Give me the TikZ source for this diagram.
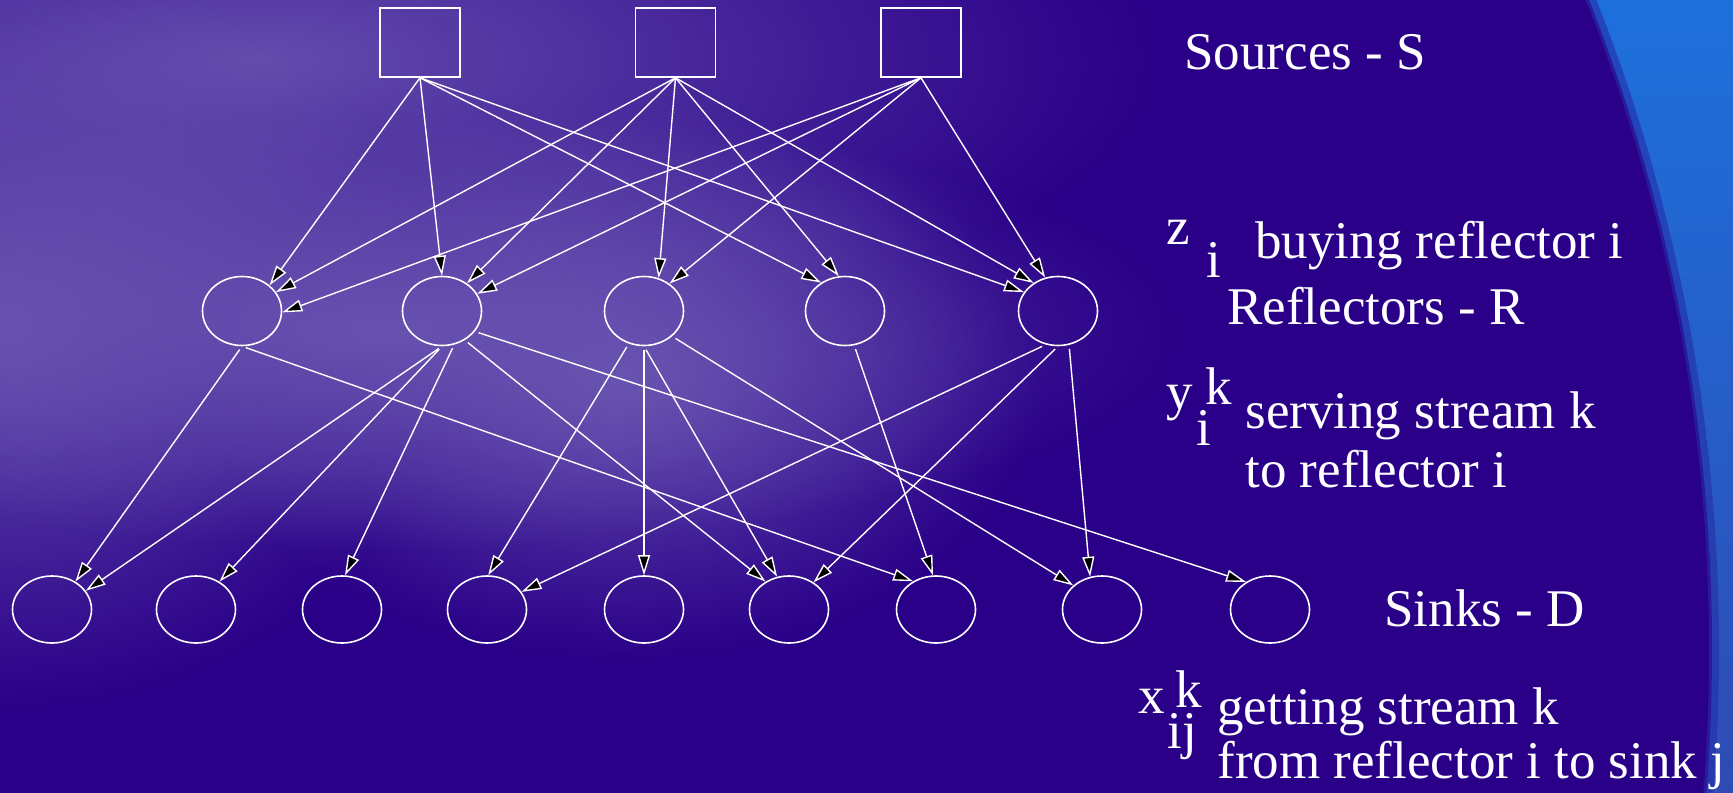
\documentclass[tikz,border=0pt]{standalone}
\usepackage{fontspec}
\setmainfont{Liberation Serif}
\newfontfamily\legendface{Liberation Serif}
\usetikzlibrary{arrows.meta,shapes.geometric,fadings}
\definecolor{bgDark}{HTML}{2A0088}
\definecolor{bgLight}{HTML}{6E5AB4}
\definecolor{rimBlue}{HTML}{1E70DC}
\definecolor{rimBlueLow}{HTML}{2E4CB4}
\newcommand\legendfont{\legendface\fontsize{26.5}{30}\selectfont}
\tikzfading[name=glow, inner color=transparent!15, outer color=transparent!100]

\begin{document}
\begin{tikzpicture}[x=0.5pt, y=-0.5pt, >={Triangle[length=10pt,width=6pt,fill=black]},
    source/.style={draw=white, line width=0.8pt, minimum width=40pt, minimum height=34.5pt, inner sep=0pt},
    refl/.style={ellipse, draw=white, line width=0.8pt, minimum width=39.5pt, minimum height=34.5pt, inner sep=0pt},
    sink/.style={refl, minimum height=33.5pt},
    flow/.style={->, white, line width=0.7pt},
    legend/.style={white, inner sep=0pt, anchor=base west, font=\legendfont}]
    \useasboundingbox (0,0) rectangle (1733,792);

    % ---------- background ----------
    \begin{scope}
        \clip (0,0) rectangle (1733,792);
        \shade[top color=rimBlue, bottom color=rimBlueLow] (0,0) rectangle (1733,792);
        \fill[bgDark] (-60,650) circle (1772);
        \draw[line width=5pt, color=bgDark!60!rimBlue, opacity=0.6] (-60,650) circle (1774);
        \fill[bgLight, path fading=glow] (260,60) ellipse (900 and 300);
        \fill[bgLight, path fading=glow] (0,330) ellipse (450 and 380);
        \fill[bgLight, path fading=glow] (380,330) ellipse (800 and 220);
        \fill[bgLight, path fading=glow] (620,380) ellipse (420 and 280);
    \end{scope}

    % ---------- sources, reflectors, sinks ----------
    \foreach \n/\x in {1/420, 2/675.5, 3/921}
        \node[source] (s\n) at (\x,42.5) {};
    \foreach \n/\x in {1/242, 2/442, 3/644, 4/845, 5/1058}
        \node[refl] (r\n) at (\x,311) {};
    \foreach \n/\x in {1/52, 2/196, 3/342, 4/487, 5/644, 6/789, 7/936, 8/1102, 9/1270}
        \node[sink] (d\n) at (\x,609.5) {};

    % ---------- edges ----------
    \foreach \a/\b/\hb in {1/1/43, 1/2/90, 1/4/130, 1/5/151, 2/1/29, 2/2/48, 2/3/66,
                           2/4/100, 2/5/131, 3/1/-2, 3/2/26, 3/3/47, 3/5/111}
        \draw[flow] (s\a.south) -- (r\b.\hb);
    \foreach \a/\ta/\b/\hb in {1/-90/1/50, 1/-90/7/129, 2/-90/1/29, 2/-90/2/50, 2/-70/3/85,
                               2/-52/6/130, 2/-32/9/131, 3/-115/4/88, 3/-90/5/90, 3/-90/6/110,
                               3/-42/8/140, 4/-75/7/95, 5/-110/4/27, 5/-90/6/48, 5/-72/8/110}
        \draw[flow, shorten <=2pt] (r\a.\ta) -- (d\b.\hb);

    % ---------- legend ----------
    \node[legend] (srcLbl) at (1184,69) {Sources - S};
    \node[legend] (zVar) at (1166,244) {z};
    \node[legend] (zIdx) at (1206,277) {i};
    \node[legend] (zTxt) at (1255,258) {buying reflector i};
    \node[legend] (refLbl) at (1227,324) {Reflectors - R};
    \node[legend] (yVar) at (1166,409) {y};
    \node[legend] (yUp) at (1205,404) {k};
    \node[legend] (yIdx) at (1196,445) {i};
    \node[legend] (yTxt) at (1245,428) {serving stream k};
    \node[legend] (yTxtB) at (1245,487) {to reflector i};
    \node[legend] (snkLbl) at (1384,626) {Sinks - D};
    \node[legend] (xVar) at (1138,713) {x};
    \node[legend] (xUp) at (1175,707) {k};
    \node[legend] (xIdx) at (1167,748) {ij};
    \node[legend] (xTxt) at (1217,724) {getting stream k};
    \node[legend] (xTxtB) at (1217,778) {from reflector i to sink j};
\end{tikzpicture}
\end{document}
